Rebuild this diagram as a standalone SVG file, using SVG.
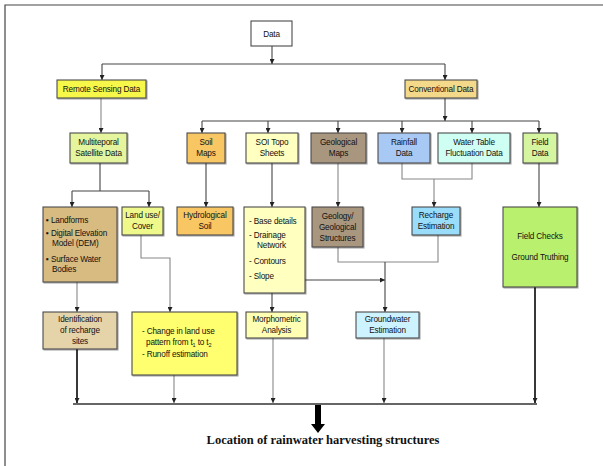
<svg xmlns="http://www.w3.org/2000/svg" width="603" height="466" viewBox="0 0 603 466">
<style>
.b{stroke:#4a4a4a;stroke-width:1.1}
.t{font-family:"Liberation Sans",Arial,sans-serif;font-size:8.2px;fill:#111;text-anchor:middle;letter-spacing:-0.15px}
.l{font-family:"Liberation Sans",Arial,sans-serif;font-size:8.2px;fill:#111;letter-spacing:-0.15px}
.c{fill:none;stroke:#444;stroke-width:1.1}
.g{fill:none;stroke:#888;stroke-width:1.1}
.k{fill:none;stroke:#222;stroke-width:1.8}
</style>
<defs>
<marker id="a" markerWidth="5" markerHeight="5" refX="5" refY="2.5" orient="auto" markerUnits="userSpaceOnUse"><path d="M0,0 L5,2.5 L0,5 z" fill="#222"/></marker>
<filter id="s" x="-10%" y="-10%" width="130%" height="130%"><feDropShadow dx="1" dy="1" stdDeviation="0.6" flood-color="#000" flood-opacity="0.35"/></filter>
</defs>
<rect width="603" height="466" fill="#fff"/>
<g id="frame"><path d="M5,466 V5 H603" fill="none" stroke="#444" stroke-width="1.2"/></g>
<g id="connectors">
<path class="c" d="M272,46 V64" marker-end="url(#a)"/>
<path class="c" d="M102,64 H445"/>
<path class="c" d="M102,64 V80" marker-end="url(#a)"/>
<path class="c" d="M445,64 V80" marker-end="url(#a)"/>
<path class="g" d="M101,98 V133" marker-end="url(#a)"/>
<path class="c" d="M445,98 V121" marker-end="url(#a)"/>
<path class="c" d="M202,121 H539"/>
<path class="c" d="M202,121 V133" marker-end="url(#a)"/>
<path class="c" d="M268,121 V133" marker-end="url(#a)"/>
<path class="c" d="M338,121 V133" marker-end="url(#a)"/>
<path class="c" d="M402,121 V133" marker-end="url(#a)"/>
<path class="c" d="M472,121 V133" marker-end="url(#a)"/>
<path class="c" d="M539,121 V133" marker-end="url(#a)"/>
<path class="c" d="M100,163 V191 M72,191 H149"/>
<path class="c" d="M72,191 V207" marker-end="url(#a)"/>
<path class="c" d="M149,191 V207" marker-end="url(#a)"/>
<path class="c" d="M206,163 V207" marker-end="url(#a)"/>
<path class="c" d="M272,163 V207" marker-end="url(#a)"/>
<path class="g" d="M338,163 V207" marker-end="url(#a)"/>
<path class="g" d="M402,163 V179 H472 V163 M434,179 V207"/>
<path class="g" d="M434,200 V207" marker-end="url(#a)"/>
<path class="c" d="M539,163 V207" marker-end="url(#a)"/>
<path class="g" d="M141,235 V258 H170 V312" marker-end="url(#a)"/>
<path class="g" d="M77,282 V312" marker-end="url(#a)"/>
<path class="c" d="M272,293 V312" marker-end="url(#a)"/>
<path class="c" d="M305,280 H385" marker-end="url(#a)"/>
<path class="g" d="M338,247 V262 H438 V235"/>
<path class="c" d="M385,262 V312" marker-end="url(#a)"/>
<path class="k" d="M77,349 V403" marker-end="url(#a)"/>
<path class="g" d="M174,375 V403" marker-end="url(#a)"/>
<path class="g" d="M273,338 V403" marker-end="url(#a)"/>
<path class="g" d="M384,338 V403" marker-end="url(#a)"/>
<path class="k" d="M535,287 V403" marker-end="url(#a)"/>
<path d="M73,404 H537" fill="none" stroke="#333" stroke-width="1.4"/>
<path d="M315,405 H321 V424 H325 L318,433 L311,424 H315 Z" fill="#000"/>
</g>
<g id="data"><rect class="b" x="251" y="21" width="41" height="25" fill="#fff"/><text class="t" x="271.5" y="37">Data</text></g>
<g id="remote"><rect class="b" x="57" y="80" width="89" height="18" fill="#f7f74a" filter="url(#s)"/><text class="t" x="101.5" y="92">Remote Sensing Data</text></g>
<g id="conventional"><rect class="b" x="405" y="80" width="72" height="18" fill="#f5d98a" filter="url(#s)"/><text class="t" x="441" y="92">Conventional Data</text></g>
<g id="multiteporal"><rect class="b" x="70" y="133" width="57" height="30" fill="#e5f59e" filter="url(#s)"/><text class="t" x="98.5" y="145">Multiteporal</text><text class="t" x="98.5" y="156">Satellite Data</text></g>
<g id="soilmaps"><rect class="b" x="187" y="133" width="38" height="30" fill="#f8c662" filter="url(#s)"/><text class="t" x="206" y="145">Soil</text><text class="t" x="206" y="156">Maps</text></g>
<g id="soitopo"><rect class="b" x="246" y="133" width="52" height="30" fill="#ffffc0" filter="url(#s)"/><text class="t" x="272" y="145">SOI Topo</text><text class="t" x="272" y="156">Sheets</text></g>
<g id="geomaps"><rect class="b" x="311" y="133" width="55" height="30" fill="#a8967e" filter="url(#s)"/><text class="t" x="338.5" y="145">Geological</text><text class="t" x="338.5" y="156">Maps</text></g>
<g id="rainfall"><rect class="b" x="378" y="133" width="52" height="30" fill="#a9c9f5" filter="url(#s)"/><text class="t" x="404" y="145">Rainfall</text><text class="t" x="404" y="156">Data</text></g>
<g id="watertable"><rect class="b" x="438" y="133" width="72" height="30" fill="#cffff3" filter="url(#s)"/><text class="t" x="474" y="145">Water Table</text><text class="t" x="474" y="156">Fluctuation Data</text></g>
<g id="fielddata"><rect class="b" x="523" y="133" width="34" height="30" fill="#d6f5a0" filter="url(#s)"/><text class="t" x="540" y="145">Field</text><text class="t" x="540" y="156">Data</text></g>
<g id="landforms"><rect class="b" x="43" y="207" width="74" height="75" fill="#d8bb80" filter="url(#s)"/>
<text class="l" x="46" y="223">▪ Landforms</text><text class="l" x="46" y="236">▪ Digital Elevation</text><text class="l" x="52" y="246">Model (DEM)</text><text class="l" x="46" y="262">▪ Surface Water</text><text class="l" x="52" y="272">Bodies</text></g>
<g id="landuse"><rect class="b" x="122" y="207" width="41" height="28" fill="#eff88a" filter="url(#s)"/><text class="t" x="142.5" y="218">Land use/</text><text class="t" x="142.5" y="229">Cover</text></g>
<g id="hydsoil"><rect class="b" x="177" y="207" width="56" height="28" fill="#f8c662" filter="url(#s)"/><text class="t" x="205" y="218">Hydrological</text><text class="t" x="205" y="229">Soil</text></g>
<g id="soidetails"><rect class="b" x="244" y="207" width="61" height="86" fill="#ffffc0" filter="url(#s)"/>
<text class="l" x="249" y="224">- Base details</text><text class="l" x="249" y="238">- Drainage</text><text class="l" x="257" y="248">Network</text><text class="l" x="249" y="264">- Contours</text><text class="l" x="249" y="279">- Slope</text></g>
<g id="geology"><rect class="b" x="312" y="207" width="51" height="40" fill="#a8967e" filter="url(#s)"/><text class="t" x="337.5" y="219">Geology/</text><text class="t" x="337.5" y="230">Geological</text><text class="t" x="337.5" y="241">Structures</text></g>
<g id="recharge"><rect class="b" x="412" y="207" width="48" height="28" fill="#99ddfa" filter="url(#s)"/><text class="t" x="436" y="218">Recharge</text><text class="t" x="436" y="229">Estimation</text></g>
<g id="fieldchecks"><rect class="b" x="503" y="207" width="74" height="80" fill="#b9f06e" filter="url(#s)"/><text class="t" x="540" y="239">Field Checks</text><text class="t" x="540" y="260">Ground Truthing</text></g>
<g id="identification"><rect class="b" x="43" y="312" width="74" height="37" fill="#e5d3aa" filter="url(#s)"/><text class="t" x="80" y="322">Identification</text><text class="t" x="80" y="333">of recharge</text><text class="t" x="80" y="344">sites</text></g>
<g id="change"><rect class="b" x="132" y="312" width="105" height="63" fill="#ffff70" filter="url(#s)"/>
<text class="l" x="142" y="334">- Change in land use</text><text class="l" x="146" y="345">pattern from t<tspan font-size="5.5" dy="1.5">1</tspan><tspan dy="-1.5"> to t</tspan><tspan font-size="5.5" dy="1.5">2</tspan></text><text class="l" x="142" y="357">- Runoff estimation</text></g>
<g id="morphometric"><rect class="b" x="246" y="312" width="61" height="26" fill="#ffffb3" filter="url(#s)"/><text class="t" x="276.5" y="322">Morphometric</text><text class="t" x="276.5" y="333">Analysis</text></g>
<g id="groundwater"><rect class="b" x="356" y="312" width="63" height="26" fill="#ccf3ff" filter="url(#s)"/><text class="t" x="387.5" y="322">Groundwater</text><text class="t" x="387.5" y="333">Estimation</text></g>
<g id="result"><text x="323" y="444" font-family="'Liberation Serif','Times New Roman',serif" font-weight="bold" font-size="12.5" text-anchor="middle" fill="#111">Location of rainwater harvesting structures</text></g>
</svg>
